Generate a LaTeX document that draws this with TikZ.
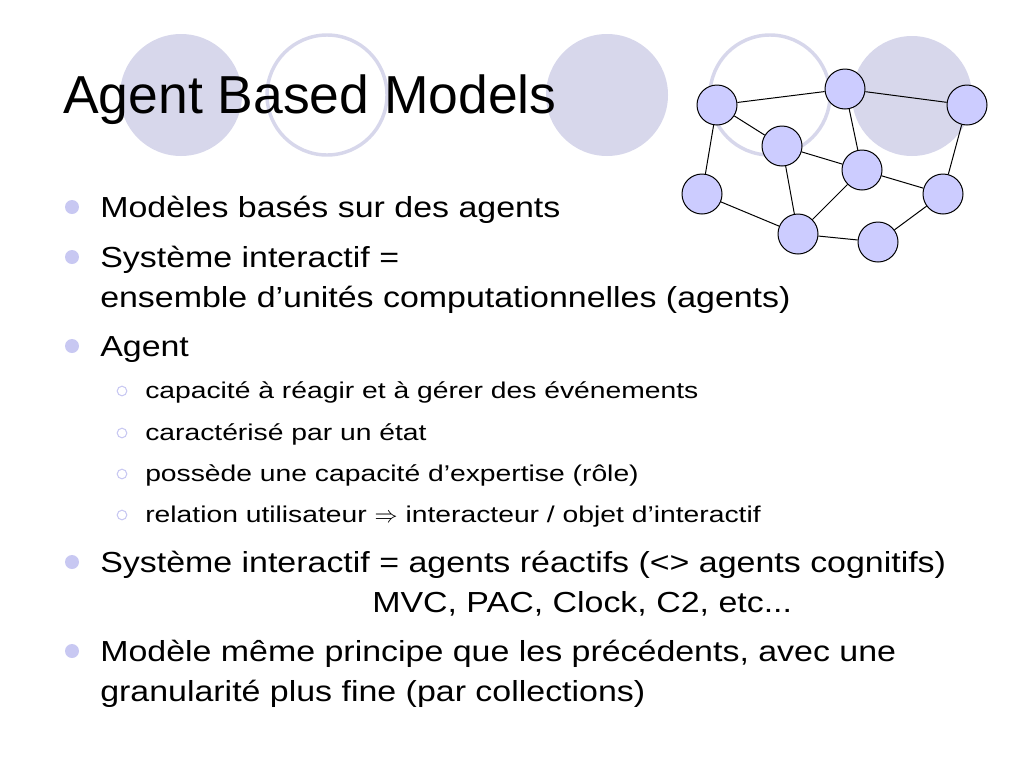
\documentclass[tikz,border=0pt]{standalone}
\usepackage{fontspec}
\setmainfont{Liberation Sans}
\newfontfamily\bodyfont[FakeStretch=1.17]{Liberation Sans}
\newfontfamily\subfont[FakeStretch=1.24]{Liberation Sans}
\definecolor{disc}{RGB}{215,215,235}
\definecolor{dot}{RGB}{200,200,242}
\definecolor{agentfill}{RGB}{204,204,255}
\tikzset{
  agent/.style={circle, draw=black, line width=0.75pt, fill=agentfill, minimum size=30pt, inner sep=0pt},
  level1/.style={anchor=base west, inner sep=0pt, font=\bodyfont\fontsize{21.75}{26}\selectfont},
  level2/.style={anchor=base west, inner sep=0pt, font=\subfont\fontsize{17.1}{20}\selectfont},
  title/.style={anchor=base west, inner sep=0pt, font=\fontsize{40.1}{48}\selectfont},
}
\begin{document}
\begin{tikzpicture}[x=0.75pt,y=-0.75pt]
  \useasboundingbox (0,0) rectangle (1024,768);
  % discs behind the title
  \fill[disc] (181,95) circle (45.75pt);
  \draw[disc, line width=2.6pt] (327,95) circle (45pt);
  \fill[disc] (607,95) circle (45.75pt);
  \draw[disc, line width=2.6pt] (770,95) circle (45pt);
  \fill[disc] (912,96) circle (45pt);

  \node[title] (title) at (63,113) {Agent Based Models};

  % network of agents
  \node[agent] (a1) at (717,105) {};
  \node[agent] (a2) at (845,89) {};
  \node[agent] (a3) at (967,105) {};
  \node[agent] (a4) at (782,146) {};
  \node[agent] (a5) at (862,170) {};
  \node[agent] (a6) at (702,194) {};
  \node[agent] (a7) at (943,194) {};
  \node[agent] (a8) at (798,234) {};
  \node[agent] (a9) at (878,242) {};
  \foreach \u/\v in {a1/a2, a2/a3, a1/a4, a1/a6, a4/a5, a4/a8, a5/a2, a5/a7,
                     a5/a8, a3/a7, a6/a8, a8/a9, a9/a7}
    \draw[line width=0.75pt] (\u) -- (\v);

  % bullets
  \foreach \y in {207, 257, 346, 562, 651}
    \fill[dot] (72,\y) circle (5.25pt);
  \foreach \y in {391, 433, 474, 515}
    \draw[dot, line width=0.8pt] (122,\y) circle (3.6pt);

  \node[level1] (t1) at (100,217) {Modèles basés sur des agents};
  \node[level1] (t2) at (100,267) {Système interactif =};
  \node[level1] (t2b) at (100,307) {ensemble d’unités computationnelles (agents)};
  \node[level1] (t3) at (100,356) {Agent};
  \node[level2] (s1) at (145,398) {capacité à réagir et à gérer des événements};
  \node[level2] (s2) at (145,440) {caractérisé par un état};
  \node[level2] (s3) at (145,481) {possède une capacité d’expertise (rôle)};
  \node[level2] (s4) at (145,522) {relation utilisateur $\Rightarrow$ interacteur / objet d’interactif};
  \node[level1] (t4) at (100,572) {Système interactif = agents réactifs (<> agents cognitifs)};
  \node[level1] (t4b) at (372,612) {MVC, PAC, Clock, C2, etc...};
  \node[level1] (t5) at (100,661) {Modèle même principe que les précédents, avec une};
  \node[level1] (t5b) at (100,701) {granularité plus fine (par collections)};
\end{tikzpicture}
\end{document}
